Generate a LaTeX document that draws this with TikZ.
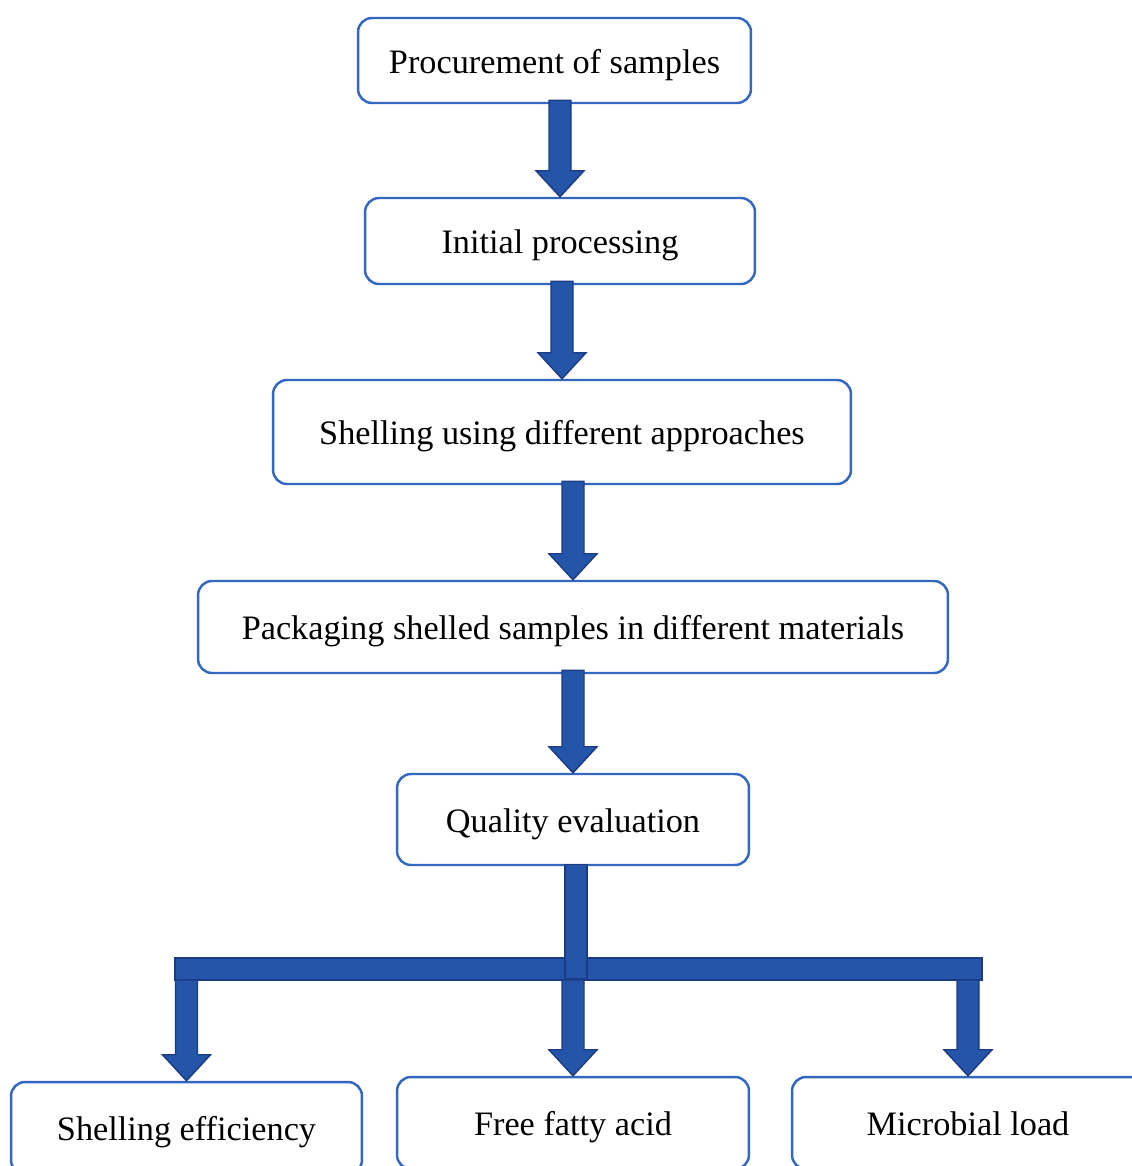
\documentclass[tikz,border=0pt]{standalone}
\usepackage{fontspec}
\setmainfont{Liberation Serif}
\usetikzlibrary{calc}
\definecolor{boxblue}{HTML}{3468C0}
\definecolor{arrfill}{HTML}{2455A8}
\definecolor{arrline}{HTML}{1B3C84}
\tikzset{
  stepbox/.style={draw=boxblue, line width=1.4pt, rounded corners=0.28cm, fill=white,
    inner sep=0pt, align=center, text height=18pt, text depth=3.4pt,
    font=\fontsize{19.5}{23}\selectfont},
  arr/.style={fill=arrfill, draw=arrline, line width=0.8pt, line join=miter}
}
\newcommand\blockarr[2]{%
  \path (#2.north) coordinate (tip) (tip |- #1) coordinate (src);
  \draw[arr] ($(src)+(-11,-4)$) -- ($(tip)+(-11,-26)$) -- ($(tip)+(-24,-26)$) -- (tip)
    -- ($(tip)+(24,-26)$) -- ($(tip)+(11,-26)$) -- ($(src)+(11,-4)$) -- cycle;
}
\begin{document}
\begin{tikzpicture}[x=0.02cm, y=-0.02cm]
\clip (0,0) rectangle (1132,1166);
\fill[white] (0,0) rectangle (1132,1166);
\node[stepbox, minimum width=7.86cm, minimum height=1.70cm] (p1) at (554.5,60.5) {Procurement of samples};
\node[stepbox, minimum width=7.80cm, minimum height=1.72cm] (p2) at (560,241) {Initial processing};
\node[stepbox, minimum width=11.56cm, minimum height=2.08cm] (p3) at (562,432) {Shelling using different approaches};
\node[stepbox, minimum width=15.00cm, minimum height=1.84cm] (p4) at (573,627) {Packaging shelled samples in different materials};
\node[stepbox, minimum width=7.04cm, minimum height=1.82cm] (p5) at (573,819.5) {Quality evaluation};
\node[stepbox, minimum width=7.02cm, minimum height=1.84cm] (r1) at (186.5,1128) {Shelling efficiency};
\node[stepbox, minimum width=7.04cm, minimum height=1.84cm] (r2) at (573,1123) {Free fatty acid};
\node[stepbox, minimum width=7.04cm, minimum height=1.84cm] (r3) at (968,1123) {Microbial load};
\blockarr{p1.south}{p2}
\blockarr{p2.south}{p3}
\blockarr{p3.south}{p4}
\blockarr{p4.south}{p5}
% tree
\coordinate (hl) at (175,958);
\coordinate (hr) at (982,980);
\coordinate (hbot) at (573,984);
\draw[arr] (hl) rectangle (hr);
\draw[arr] ($(p5.south)+(-8,-2)$) rectangle ($(p5.south)+(14,112)$);
\blockarr{hbot}{r1}
\blockarr{hbot}{r2}
\blockarr{hbot}{r3}
\end{tikzpicture}
\end{document}
